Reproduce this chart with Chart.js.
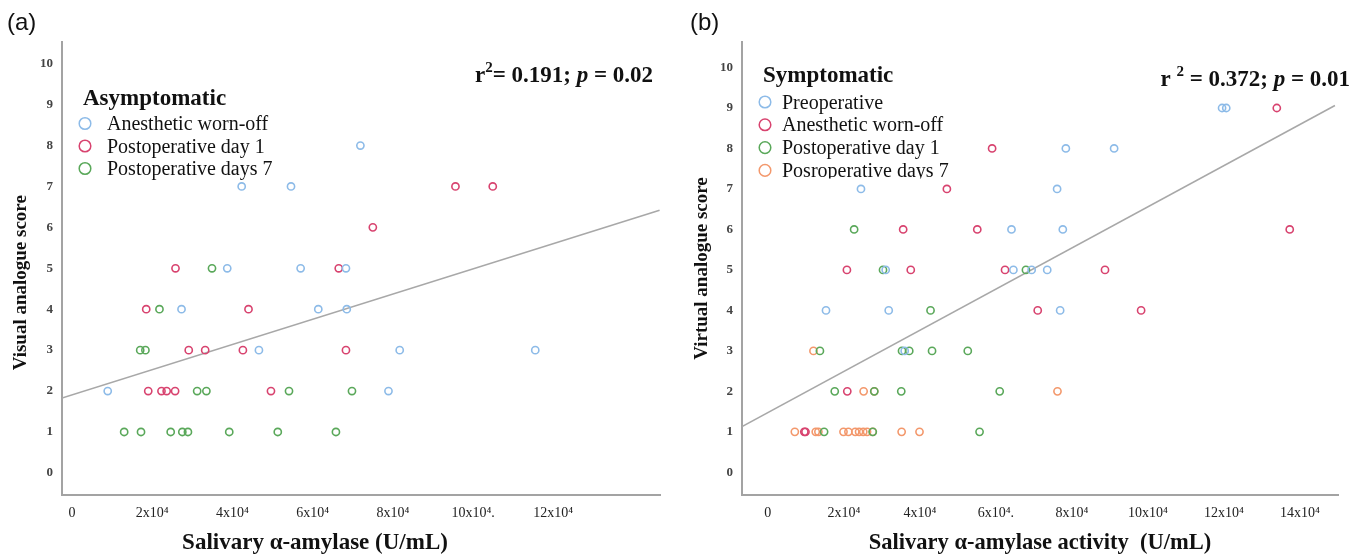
<!DOCTYPE html>
<html>
<head>
<meta charset="utf-8">
<script src="https://cdn.jsdelivr.net/npm/chart.js@4.4.1/dist/chart.umd.min.js"></script>
<style>
  html, body { margin: 0; background: #fff; }
  body { width: 1353px; height: 557px; position: relative; overflow: hidden; }
  .panel { position: absolute; top: 0; height: 557px; }
  #pa { left: 0; width: 680px; }
  #pb { left: 680px; width: 673px; }
  .tag { position: absolute; top: 8px; font: 24px 'Liberation Sans', Arial, sans-serif; color: #111; }
</style>
</head>
<body>
<div class="panel" id="pa"><canvas id="ca"></canvas></div>
<div class="panel" id="pb"><canvas id="cb"></canvas></div>
<div class="tag" style="left:7px">(a)</div>
<div class="tag" style="left:690px">(b)</div>

<script>
// ---- (a) Asymptomatic ----
const aWornX = [8900, 27300, 38700, 42300, 46600, 54600, 57000, 61400, 68300, 68500, 71900, 78900, 81700, 115500];
const aWornY = [2, 4, 5, 7, 3, 7, 5, 4, 5, 4, 8, 2, 3, 3];
const aDay1X = [18500, 19000, 22300, 23600, 25700, 25800, 29100, 33200, 42600, 44000, 49600, 66500, 68300, 75000, 95600, 104900];
const aDay1Y = [4, 2, 2, 2, 2, 5, 3, 3, 3, 4, 2, 5, 3, 6, 7, 7];
const aDay7X = [13000, 17200, 17000, 18300, 21800, 24600, 27500, 28900, 31200, 33500, 34900, 39200, 51300, 54100, 65800, 69800];
const aDay7Y = [1, 1, 3, 3, 4, 1, 1, 1, 2, 2, 5, 1, 1, 2, 1, 2];
const aFitX = [-2500, 146500];
const aFitY = [1.83, 6.42];
const aXTicks = [0, 20000, 40000, 60000, 80000, 100000, 120000];
const aXLabels = ['0', '2x10⁴', '4x10⁴', '6x10⁴', '8x10⁴', '10x10⁴.', '12x10⁴'];

// ---- (b) Symptomatic ----
const bPreX = [15300, 24500, 31000, 31800, 36000, 64100, 64600, 69400, 73500, 76100, 76900, 77600, 78400, 91100, 119500, 120600];
const bPreY = [4, 7, 5, 4, 3, 6, 5, 5, 5, 7, 4, 6, 8, 8, 9, 9];
const bWornX = [9600, 9900, 20800, 20900, 35600, 37600, 47100, 55100, 59000, 62400, 71000, 88700, 98200, 133900, 137300];
const bWornY = [1, 1, 5, 2, 6, 5, 7, 6, 8, 5, 4, 5, 4, 9, 6];
const bDay1X = [13700, 14800, 17600, 22700, 27600, 28000, 30300, 35100, 35300, 37200, 42800, 43200, 52600, 55700, 61000, 67900];
const bDay1Y = [3, 1, 2, 6, 1, 2, 5, 2, 3, 3, 4, 3, 3, 1, 2, 5];
const bDay7X = [7100, 12000, 12600, 13300, 19900, 21200, 23000, 24000, 25100, 25200, 26100, 27600, 28000, 35200, 39900, 76200];
const bDay7Y = [1, 3, 1, 1, 1, 1, 1, 1, 1, 2, 1, 1, 2, 1, 1, 2];
const bFitX = [-6800, 149200];
const bFitY = [1.13, 9.06];
const bXTicks = [0, 20000, 40000, 60000, 80000, 100000, 120000, 140000];
const bXLabels = ['0', '2x10⁴', '4x10⁴', '6x10⁴.', '8x10⁴', '10x10⁴', '12x10⁴', '14x10⁴'];

const yTicks = [0, 1, 2, 3, 4, 5, 6, 7, 8, 9, 10];
const yLabels = ['0', '1', '2', '3', '4', '5', '6', '7', '8', '9', '10'];

const SERIF = "'Liberation Serif', 'Times New Roman', 'DejaVu Serif', serif";
const AXIS = '#a3a3a3';
const C = { blue: '#8dbbe8', red: '#d8436f', green: '#5aa85a', orange: '#f3986c' };

const pts = (xs, ys) => xs.map((x, i) => ({ x, y: ys[i] }));

function series(label, xs, ys, color) {
  return {
    label, data: pts(xs, ys),
    borderColor: color, backgroundColor: 'rgba(0,0,0,0)',
    pointRadius: 3.6, pointHoverRadius: 3.6, pointBorderWidth: 1.6
  };
}

function fitLine(xs, ys) {
  return {
    type: 'line', label: 'fit', isFit: true, data: pts(xs, ys),
    borderColor: '#a8a8a8', borderWidth: 1.6, pointRadius: 0, fill: false
  };
}

// legend box + r²/p note drawn inside the plot
const panelDecor = {
  id: 'panelDecor',
  afterDatasetsDraw(chart, args, o) {
    const ctx = chart.ctx;
    ctx.save();
    ctx.fillStyle = '#111';
    ctx.textBaseline = 'alphabetic';
    ctx.textAlign = 'left';
    ctx.font = `bold 23px ${SERIF}`;
    ctx.fillText(o.title, o.x, o.y);

    const items = chart.data.datasets.filter(d => !d.isFit);
    items.forEach((d, i) => {
      const base = o.y + o.gap + i * o.step;
      ctx.beginPath();
      ctx.arc(o.x + 2, base - 6.5, 5.8, 0, Math.PI * 2);
      ctx.strokeStyle = d.borderColor;
      ctx.lineWidth = 1.5;
      ctx.stroke();
      ctx.save();
      if (o.clipLast && i === items.length - 1) {   // bottom of last entry is cut off in the figure
        ctx.beginPath();
        ctx.rect(0, 0, chart.width, base + 1.5);
        ctx.clip();
      }
      ctx.font = `20px ${SERIF}`;
      ctx.fillText(d.label, o.x + o.textDx, base);
      ctx.restore();
    });

    // note, right aligned
    const fonts = { b: `bold 23px ${SERIF}`, bi: `italic bold 23px ${SERIF}`, sup: `bold 15px ${SERIF}` };
    let w = 0;
    o.note.forEach(([t, f]) => { ctx.font = fonts[f]; w += ctx.measureText(t).width; });
    let x = o.noteRight - w;
    o.note.forEach(([t, f]) => {
      ctx.font = fonts[f];
      ctx.fillText(t, x, o.noteY - (f === 'sup' ? 10 : 0));
      x += ctx.measureText(t).width;
    });
    ctx.restore();
  }
};

function scales(o) {
  return {
    x: {
      type: 'linear', min: o.xMin, max: o.xMax,
      afterBuildTicks: s => { s.ticks = o.xTicks.map(v => ({ value: v })); },
      afterFit: s => { s.height = 62; },
      grid: { display: true, drawOnChartArea: false, drawTicks: false },
      border: { color: AXIS, width: 2 },
      ticks: {
        autoSkip: false, maxRotation: 0, padding: 10, color: '#222',
        font: { family: SERIF, size: 14 },
        callback: (v, i) => o.xLabels[i]
      },
      title: {
        display: true, text: o.xTitle, color: '#111',
        font: { family: SERIF, size: o.xTitleSize, weight: 'bold' }, padding: { top: 0, bottom: 0 }
      }
    },
    y: {
      type: 'linear', min: o.yMin, max: o.yMax,
      afterBuildTicks: s => { s.ticks = yTicks.map(v => ({ value: v })); },
      afterFit: s => { s.width = 62; },
      grid: { display: true, drawOnChartArea: false, drawTicks: false },
      border: { color: AXIS, width: 2 },
      ticks: {
        autoSkip: false, padding: 9, color: '#444',
        font: { family: SERIF, size: 13, weight: 'bold' },
        callback: (v, i) => yLabels[i]
      },
      title: {
        display: true, text: o.yTitle, color: '#111',
        font: { family: SERIF, size: 19, weight: 'bold' }, padding: { top: o.yTitlePad, bottom: 0 }
      }
    }
  };
}

function makePanel(id, datasets, sc, pad, decor) {
  return new Chart(document.getElementById(id), {
    type: 'scatter',
    data: { datasets },
    options: {
      responsive: true, maintainAspectRatio: false, animation: false,
      layout: { padding: pad },
      plugins: { legend: { display: false }, tooltip: { enabled: false }, panelDecor: decor },
      scales: scales(sc)
    },
    plugins: [panelDecor]
  });
}

// trailing en spaces nudge the centred titles the way the figure has them
makePanel('ca', [
  series('Anesthetic worn-off', aWornX, aWornY, C.blue),
  series('Postoperative day 1', aDay1X, aDay1Y, C.red),
  series('Postoperative days 7', aDay7X, aDay7Y, C.green),
  fitLine(aFitX, aFitY)
], {
  xMin: -2500, xMax: 146600, yMin: -0.54, yMax: 10.53,
  xTicks: aXTicks, xLabels: aXLabels,
  xTitle: 'Salivary α-amylase (U/mL)' + '\u2002'.repeat(8), xTitleSize: 23,
  yTitle: 'Visual analogue score' + '\u2002'.repeat(3), yTitlePad: 10
}, { top: 42, right: 20, left: 0, bottom: 0 }, {
  title: 'Asymptomatic', x: 83, y: 105, gap: 25, step: 22.5, textDx: 24,
  note: [['r', 'b'], ['2', 'sup'], ['= 0.191; ', 'b'], ['p', 'bi'], [' = 0.02', 'b']],
  noteRight: 653, noteY: 82
});

makePanel('cb', [
  series('Preoperative', bPreX, bPreY, C.blue),
  series('Anesthetic worn-off', bWornX, bWornY, C.red),
  series('Postoperative day 1', bDay1X, bDay1Y, C.green),
  series('Posroperative days 7', bDay7X, bDay7Y, C.orange),
  fitLine(bFitX, bFitY)
], {
  xMin: -6800, xMax: 150000, yMin: -0.56, yMax: 10.63,
  xTicks: bXTicks, xLabels: bXLabels,
  xTitle: 'Salivary α-amylase activity  (U/mL)', xTitleSize: 22.5,
  yTitle: 'Virtual analogue score', yTitlePad: 11
}, { top: 42, right: 15, left: 0, bottom: 0 }, {
  title: 'Symptomatic', x: 83, y: 82, gap: 26.5, step: 22.8, textDx: 19, clipLast: true,
  note: [['r ', 'b'], ['2', 'sup'], [' = 0.372; ', 'b'], ['p', 'bi'], [' = 0.01', 'b']],
  noteRight: 670, noteY: 86
});
</script>
</body>
</html>
